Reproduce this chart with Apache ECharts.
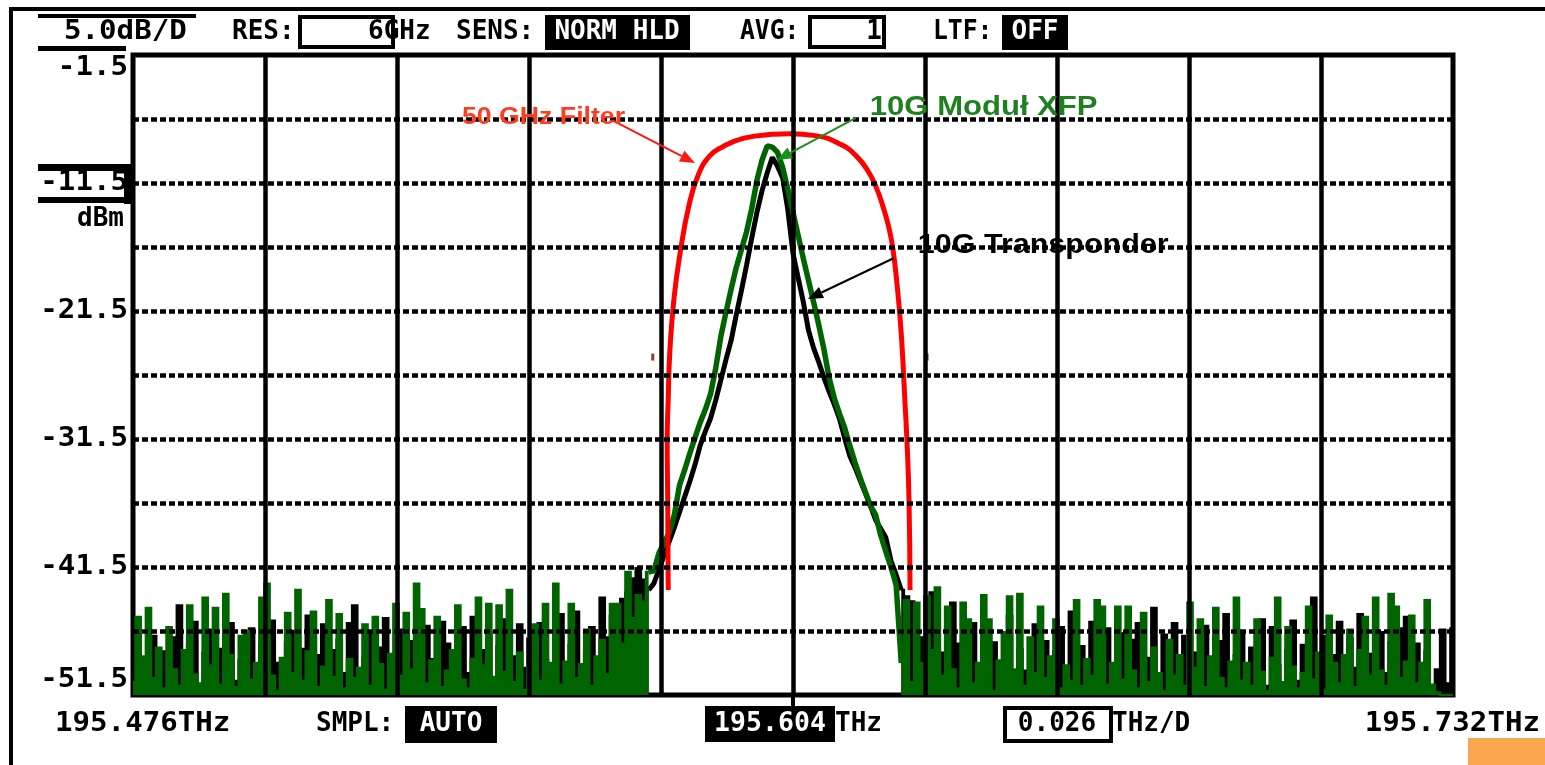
<!DOCTYPE html>
<html><head><meta charset="utf-8">
<script src="https://cdn.jsdelivr.net/npm/echarts@6/dist/echarts.min.js"></script>
<style>html,body{margin:0;padding:0;background:#fff;overflow:hidden}#c{width:1545px;height:765px}</style>
</head><body><div id="c"></div>
<script>
// ---- axis ranges / ticks (THz, dBm) ----
const F_MIN = 195.476, F_MAX = 195.732, F_STEP = 0.001;
const Y_MIN = -51.5, Y_MAX = -1.5;
const xGrid = [195.5016,195.5272,195.5528,195.5784,195.6040,195.6296,195.6552,195.6808,195.7064];
const yGrid = [-46.5,-41.5,-36.5,-31.5,-26.5,-21.5,-16.5,-11.5,-6.5];
const yLabelVals = [-1.5,-11.5,-21.5,-31.5,-41.5,-51.5];
const yLabelText = ['-1.5','-11.5','-21.5','-31.5','-41.5','-51.5'];

// ---- 10G Modul XFP trace (dBm, one sample per 0.001 THz from 195.476) ----
const xfpLeft = [
-50.5,-45.4,-48.5,-44.7,-50.2,-47.8,-51.0,-46.2,-49.5,-50.8,
-48.0,-44.5,-49.9,-50.6,-43.9,-49.2,-44.7,-50.7,-43.6,-48.4,
-50.9,-46.9,-46.5,-50.3,-49.0,-43.9,-42.8,-50.0,-51.2,-48.6,
-45.1,-49.8,-43.3,-50.4,-48.1,-45.0,-50.9,-49.3,-44.1,-50.1,
-45.2,-51.0,-48.7,-50.2,-49.4,-46.0,-50.8,-45.4,-49.1,-51.1,
-48.3,-44.4,-50.0,-45.1,-49.5,-42.8,-44.8,-50.6,-48.8,-45.4,
-50.9,-49.6,-48.0,-44.5,-50.3,-51.0,-48.7,-43.9,-49.2,-44.4,
-50.1,-44.5,-49.7,-43.3,-50.5,-48.2,-51.1,-49.4,-46.0,-50.4,
-44.4,-49.0,-42.8,-50.7,-48.9,-44.4,-50.2,-49.1,-46.4,-50.8,
-48.5,-47.2,-49.9,-44.4,-44.4,-47.5,-41.9,-45.5,-43.7,-44.2,
-41.9];
const xfpPeak = [
-41.8,-40.4,-39.6,-38.8,-37.4,-35.1,-33.9,-32.6,-31.4,-30.2,
-29.2,-28.0,-26.0,-23.5,-21.6,-19.8,-18.1,-16.7,-15.3,-13.5,
-11.3,-9.7,-8.6,-8.7,-9.1,-10.3,-12.0,-13.8,-15.6,-17.4,
-19.1,-20.8,-22.6,-24.5,-26.7,-28.3,-29.5,-30.6,-32.0,-33.3,
-34.5,-35.6,-36.7,-37.4,-39.0,-40.3,-41.5,-42.9];
const xfpRight = [
-49.0,-44.1,-50.5,-44.3,-49.0,-43.8,-48.0,-43.1,-50.0,-44.6,
-49.5,-51.0,-44.3,-45.6,-50.6,-49.0,-43.7,-45.6,-51.2,-48.8,
-46.6,-43.8,-49.5,-43.6,-50.8,-47.0,-49.8,-44.6,-50.2,-48.5,
-45.6,-51.0,-49.2,-50.4,-44.1,-50.8,-48.7,-50.0,-44.1,-44.6,
-50.7,-49.0,-44.6,-50.3,-44.6,-49.6,-51.0,-45.1,-50.5,-47.8,
-49.8,-51.2,-47.2,-50.0,-48.4,-50.8,-44.3,-49.4,-45.6,-50.9,
-48.5,-44.7,-50.2,-51.0,-48.9,-43.9,-50.4,-49.0,-50.8,-45.6,
-49.7,-51.2,-48.6,-43.9,-50.5,-46.2,-49.3,-51.0,-49.8,-44.6,
-50.3,-48.2,-51.1,-45.3,-49.0,-50.6,-48.4,-46.4,-50.9,-48.0,
-45.4,-50.0,-43.9,-49.6,-50.8,-43.6,-44.6,-50.2,-48.9,-45.3,
-50.6,-49.0,-44.1,-50.7,-51.3,-51.5,-51.5,-51.5];

// ---- 10G Transponder trace ----
const trpLeft = [
-49.0,-47.8,-50.6,-49.2,-46.9,-50.5,-48.1,-50.9,-47.0,-44.5,
-50.2,-47.6,-45.8,-50.7,-48.2,-46.4,-51.0,-47.9,-49.5,-45.9,
-50.4,-48.8,-51.1,-46.3,-49.7,-47.5,-50.8,-45.7,-49.0,-51.0,
-47.4,-46.5,-50.6,-47.9,-45.3,-50.9,-48.4,-46.0,-50.5,-48.0,
-47.2,-49.8,-45.9,-44.5,-50.8,-48.6,-46.7,-50.3,-47.8,-45.5,
-51.0,-48.9,-46.4,-50.6,-47.3,-49.6,-51.1,-46.1,-48.7,-50.4,
-45.8,-47.5,-50.9,-48.3,-46.2,-49.8,-45.4,-50.7,-48.0,-46.6,
-50.2,-47.7,-45.6,-50.8,-48.5,-46.0,-49.4,-47.1,-50.6,-45.9,
-48.8,-50.9,-47.3,-45.2,-49.9,-47.6,-45.0,-50.3,-48.1,-46.2,
-49.0,-43.9,-47.0,-45.3,-48.2,-44.0,-43.5,-42.4,-41.6,-42.5,
-43.3];
const trpPeak = [
-42.8,-41.7,-40.6,-39.5,-38.4,-37.2,-36.0,-34.8,-33.5,-32.0,
-30.9,-29.9,-28.5,-26.9,-25.3,-23.8,-21.8,-19.9,-17.9,-15.8,
-13.8,-12.1,-10.7,-9.5,-10.2,-11.1,-13.6,-17.0,-18.9,-20.8,
-23.0,-24.4,-25.5,-26.7,-27.8,-28.8,-29.9,-31.4,-32.8,-33.7,
-34.7,-35.7,-36.7,-37.8,-38.5,-39.2,-41.0,-42.1];
const trpRight = [
-43.3,-43.8,-44.2,-49.8,-47.0,-50.5,-43.5,-49.0,-48.2,-51.0,
-44.3,-47.5,-50.2,-46.8,-45.9,-50.9,-48.3,-51.1,-47.4,-50.0,
-49.2,-45.3,-51.0,-47.9,-49.6,-51.2,-46.0,-50.1,-47.3,-50.7,
-48.1,-46.2,-50.9,-45.0,-49.5,-47.7,-51.0,-45.8,-50.2,-48.8,
-46.3,-51.1,-48.0,-46.7,-50.4,-47.2,-45.9,-50.8,-48.6,-44.7,
-50.3,-46.8,-50.9,-45.9,-49.7,-46.9,-51.0,-48.2,-50.6,-46.1,
-49.9,-51.1,-47.3,-45.2,-50.5,-48.4,-46.6,-51.0,-47.8,-49.7,
-45.6,-50.8,-46.2,-49.2,-51.1,-48.0,-45.7,-50.4,-47.6,-50.9,
-43.9,-49.5,-46.9,-50.6,-48.4,-45.8,-51.0,-47.1,-49.4,-45.2,
-50.7,-48.3,-50.9,-46.6,-49.8,-47.4,-51.0,-46.3,-45.4,-49.6,
-47.5,-50.8,-48.1,-50.9,-49.5,-46.4,-50.6,-46.3];

// ---- 50 GHz filter curve ----
const filterFreq = [195.5798,195.5797,195.5796,195.5798,195.5801,195.5809,195.5821,195.5838,195.5856,195.5878,195.5902,195.5945,195.6001,195.6034,195.6083,195.6133,195.6163,195.6186,195.6202,195.6215,195.6226,195.6234,195.6242,195.6248,195.6253,195.6257,195.6261,195.6265,195.6267];
const filterDb = [-43.3,-36.3,-31.6,-28.45,-24.8,-20.6,-17.0,-13.3,-10.9,-9.4,-8.7,-8.0,-7.7,-7.65,-7.8,-8.5,-9.4,-10.6,-11.9,-13.4,-15.0,-16.7,-19.5,-22.2,-25.3,-28.5,-31.6,-36.3,-43.3];

// ---- small filter markers ----
const markerFreq = [195.5768, 195.6300];
const markerDb = [-25.1, -25.1];

// ---- annotations (text, text anchor, arrow start, arrow end) ----
const annotations = [
  {text:'50 GHz Filter',   at:[195.5398,-6.42], from:[195.5689,-6.58], to:[195.5850,-9.94]},
  {text:'10G Moduł XFP',   at:[195.6189,-5.64], from:[195.6162,-6.42], to:[195.6009,-9.70]},
  {text:'10G Transponder', at:[195.6282,-16.42],from:[195.6236,-17.36],to:[195.6069,-20.56]}
];
const annStyle = [
  {fill:'#ff3d1c', arrow:'#ff1a10', size:23, sx:1.16},
  {fill:'#1f801f', arrow:'#1a8f1a', size:27, sx:1.15},
  {fill:'#000000', arrow:'#000000', size:27, sx:1.13}
];

const freqAt = i => +(F_MIN + i * F_STEP).toFixed(4);
function seg(arr, start) { return arr.map((v, k) => [freqAt(start + k), v]); }
const nL = xfpLeft.length, nP = xfpPeak.length;
const xfpNoiseL = seg(xfpLeft, 0);
const xfpSig = seg([xfpLeft[nL - 1]].concat(xfpPeak, [xfpRight[0]]), nL - 1);
const xfpNoiseR = seg(xfpRight, nL + nP);
const trpNoiseL = seg(trpLeft, 0);
const trpSig = seg([trpLeft[nL - 1]].concat(trpPeak, [trpRight[0]]), nL - 1);
const trpNoiseR = seg(trpRight, nL + nP);
const filterData = filterFreq.map((f, i) => [f, filterDb[i]]);
const markerData = markerFreq.map((f, i) => [f, markerDb[i]]);

const chart = echarts.init(document.getElementById('c'));
const hideAxis = {axisLine:{show:false},axisTick:{show:false},axisLabel:{show:false},splitLine:{show:false}};
const BLACK = '#000000', GREEN = '#006400';
function noise(name, data, color, z) {
  return {name:name, type:'line', z:z, data:data, step:'middle', showSymbol:false, silent:true,
    lineStyle:{color:color, width:2.5, join:'miter'}, areaStyle:{color:color, opacity:1, origin:'start'}};
}
function sig(name, data, color, w, z) {
  return {name:name, type:'line', z:z, data:data, showSymbol:false, silent:true,
    lineStyle:{color:color, width:w, join:'bevel'}};
}

chart.setOption({
  animation:false,
  grid:{left:133,right:92,top:55,bottom:70,show:true,borderColor:'#000',borderWidth:5,backgroundColor:'#fff'},
  xAxis:Object.assign({type:'value',min:F_MIN,max:F_MAX},hideAxis),
  yAxis:Object.assign({type:'value',min:Y_MIN,max:Y_MAX},hideAxis),
  series:[
    {type:'line', z:1, silent:true, showSymbol:false, data:[[F_MIN,Y_MIN]], lineStyle:{opacity:0},
     markLine:{silent:true, symbol:'none', animation:false, precision:6, label:{show:false},
       data: xGrid.map(v => ({xAxis:v, lineStyle:{color:'#000',width:4.5,type:'solid'}}))
         .concat(yGrid.map(v => ({yAxis:v, lineStyle:{color:'#000',width:4.5,type:[6,3]}})))}},
    noise('10G Transponder', trpNoiseL, BLACK, 2),
    noise('10G Transponder', trpNoiseR, BLACK, 2),
    sig('10G Transponder', trpSig, BLACK, 5, 2),
    noise('10G Moduł XFP', xfpNoiseL, GREEN, 3),
    noise('10G Moduł XFP', xfpNoiseR, GREEN, 3),
    sig('10G Moduł XFP', xfpSig, GREEN, 5.5, 3),
    {name:'50 GHz Filter', type:'line', z:4, data:filterData, showSymbol:false, silent:true, smooth:0.5,
     lineStyle:{color:'#ff0000',width:5}},
    {type:'scatter', z:4, data:markerData, symbol:'rect', symbolSize:[3,7], silent:true,
     itemStyle:{color:'#8b0000'}}
  ]
});

// ---- chrome of the analyser screen ----
const OSA = 'bold 26px "DejaVu Sans Mono", monospace';
function T(x, y, text, o) {
  o = o || {};
  return {type:'text', x:x, y:y, scaleX:(o.sx || 1.12), z:(o.z || 100), silent:true,
    style:{text:text, font:(o.font || OSA), fill:(o.fill || '#000'),
      textAlign:(o.align || 'left'), align:(o.align || 'left'),
      textVerticalAlign:'middle', verticalAlign:'middle'}};
}
function R(x, y, w, h, fill, stroke, lw, z) {
  return {type:'rect', z:(z || 90), silent:true, shape:{x:x,y:y,width:w,height:h},
    style:{fill:(fill || 'none'), stroke:(stroke || null), lineWidth:(lw || 0)}};
}
const g = [];
g.push(R(12, 7, 1533, 4, '#000'));
g.push(R(9, 7, 4, 758, '#000'));
// header
g.push(R(38, 14, 158, 4, '#000'));
g.push(T(64, 32, '5.0dB/D'));
g.push(R(38, 46, 88, 5, '#000'));
g.push(T(232, 32, 'RES:', {sx:1.0}));
g.push(R(300, 17, 93, 30, '#fff', '#000', 4, 91));
g.push(T(368, 32, '6GHz', {sx:1.0}));
g.push(T(456, 32, 'SENS:', {sx:1.0}));
g.push(R(545, 15, 145, 35, '#000'));
g.push(T(617, 32, 'NORM HLD', {fill:'#fff', align:'center', sx:1.0}));
g.push(T(740, 32, 'AVG:', {sx:0.95}));
g.push(R(810, 17, 74, 30, '#fff', '#000', 4, 91));
g.push(T(882, 32, '1', {align:'right', sx:1.0}));
g.push(T(933, 32, 'LTF:', {sx:0.95}));
g.push(R(1002, 15, 66, 35, '#000'));
g.push(T(1035, 32, 'OFF', {fill:'#fff', align:'center', sx:1.0}));
// footer
g.push(R(1468, 738, 77, 27, '#f9a64c', null, 0, 80));
g.push(T(55, 724, '195.476THz'));
g.push(T(316, 724, 'SMPL:', {sx:1.0}));
g.push(R(405, 706, 92, 37, '#000'));
g.push(T(451, 724, 'AUTO', {fill:'#fff', align:'center', sx:1.0}));
g.push(R(791, 695, 4, 14, '#000'));
g.push(R(705, 706, 130, 36, '#000'));
g.push(T(770, 724, '195.604', {fill:'#fff', align:'center', sx:1.02}));
g.push(T(835, 724, 'THz', {sx:1.0}));
g.push(R(1005, 708, 106, 33, '#fff', '#000', 4, 91));
g.push(T(1057, 724, '0.026', {align:'center', sx:1.0}));
g.push(T(1112, 724, 'THz/D', {sx:1.0}));
g.push(T(1540, 724, '195.732THz', {align:'right'}));

// y labels through the value scale
const yOff = {'-1.5':13, '-51.5':-15};
yLabelVals.forEach((v, i) => {
  const py = chart.convertToPixel({gridIndex:0}, [F_MIN, v])[1] + (yOff[String(v)] || 0);
  g.push(T(128, py, yLabelText[i], {align:'right'}));
  if (v === -11.5) {
    g.push(R(38, py - 19, 92, 7, '#000'));
    g.push(R(38, py + 14, 92, 6, '#000'));
    g.push(R(124, py - 19, 9, 40, '#000'));
    g.push(T(124, py + 36, 'dBm', {align:'right', sx:1.0}));
  }
});

// annotations with arrows
annotations.forEach((a, i) => {
  const st = annStyle[i];
  const p = chart.convertToPixel({gridIndex:0}, a.at);
  const s = chart.convertToPixel({gridIndex:0}, a.from);
  const e = chart.convertToPixel({gridIndex:0}, a.to);
  g.push({type:'text', x:p[0], y:p[1], scaleX:st.sx, z:120, silent:true,
    style:{text:a.text, font:'bold ' + st.size + 'px "Liberation Sans", Arial, sans-serif', fill:st.fill,
      textAlign:'left', align:'left', textVerticalAlign:'middle', verticalAlign:'middle'}});
  const dx = e[0] - s[0], dy = e[1] - s[1], L = Math.hypot(dx, dy);
  const ux = dx / L, uy = dy / L, hl = 15, hw = 6;
  const bx = e[0] - ux * hl, by = e[1] - uy * hl;
  g.push({type:'line', z:119, silent:true, shape:{x1:s[0], y1:s[1], x2:bx, y2:by},
    style:{stroke:st.arrow, lineWidth:2}});
  g.push({type:'polygon', z:119, silent:true,
    shape:{points:[[e[0], e[1]], [bx - uy * hw, by + ux * hw], [bx + uy * hw, by - ux * hw]]},
    style:{fill:st.arrow}});
});

chart.setOption({graphic:{elements:g}});
</script>
</body></html>
